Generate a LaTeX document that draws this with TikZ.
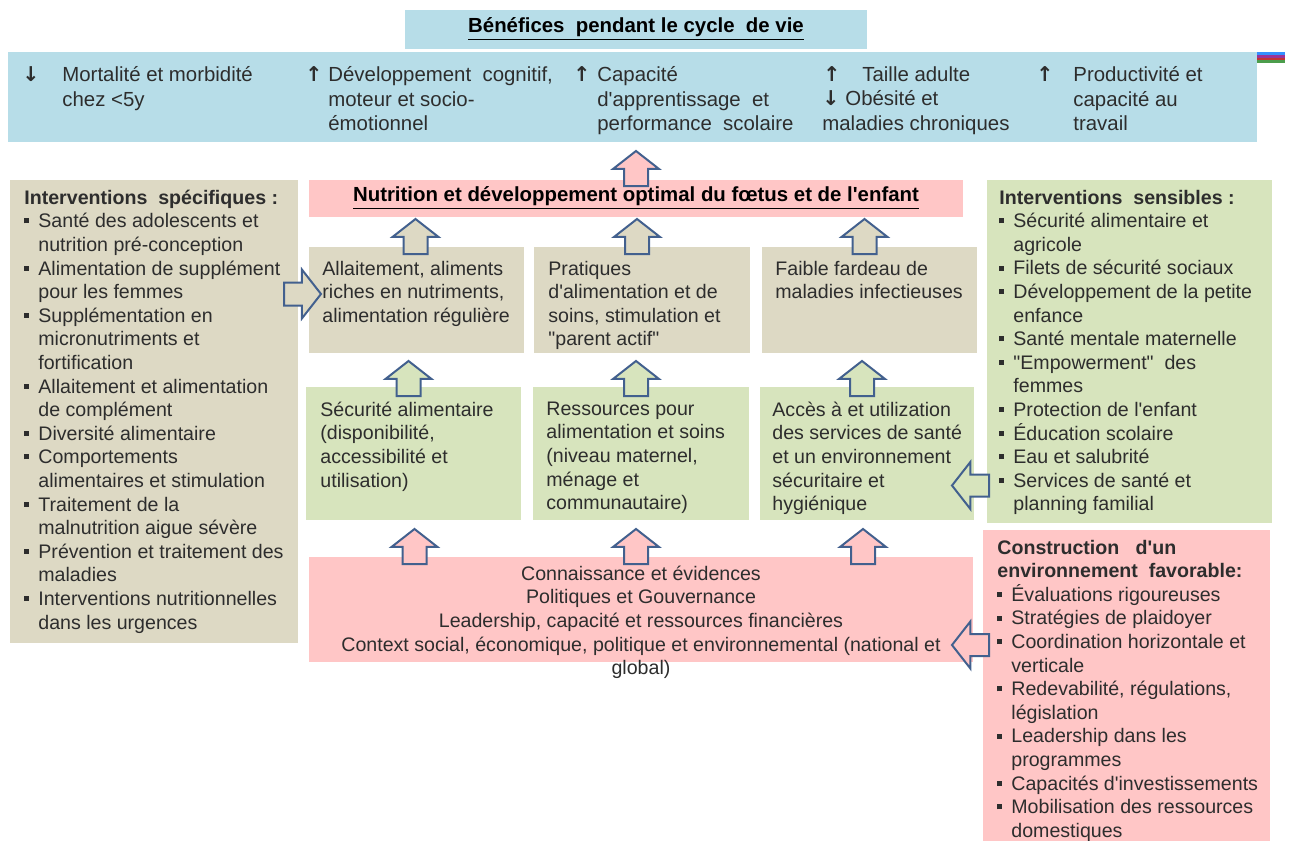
\documentclass[tikz,border=0pt]{standalone}
\usepackage{fontspec}
\setmainfont{Liberation Sans}[Ligatures=TeXOff]
\newfontfamily\arrowf{DejaVu Sans}
\usepackage{xcolor}
\usepackage{tikz}
\usetikzlibrary{calc,fit,shapes.arrows}

\definecolor{bluebox}{RGB}{183,221,232}
\definecolor{tanbox}{RGB}{221,217,196}
\definecolor{greenbox}{RGB}{215,228,189}
\definecolor{pinkbox}{RGB}{255,198,198}
\definecolor{arrline}{RGB}{66,96,142}
\definecolor{txtc}{RGB}{45,45,45}

\newcommand\bodyf{\fontsize{9.8}{11.8}\selectfont}
\newcommand\topf{\fontsize{10.2}{12.3}\selectfont}
\newcommand\bl{\makebox[7pt][l]{\rule[2.2pt]{2.5pt}{2.5pt}}}
\newcommand\ind{\hspace*{7pt}}
\newcommand\up[1]{\makebox[#1][l]{\arrowf\bfseries ↑}}
\newcommand\dn[1]{\makebox[#1][l]{\arrowf\bfseries ↓}}

\begin{document}
\begin{tikzpicture}[x=0.5pt,y=-0.5pt,
    box/.style={inner sep=0pt, outer sep=0pt},
    txt/.style={inner sep=0pt, anchor=north west, align=left, text=txtc, font=\bodyf, execute at begin node=\strut},
    toptxt/.style={txt, font=\topf},
    title/.style={inner sep=0pt, text=black, font=\fontsize{10.2}{12}\selectfont\bfseries},
    blk/.style={single arrow, draw=arrline, line width=1pt, inner xsep=0pt, inner ysep=5.5pt,
      text height=0pt, text depth=0pt, minimum width=0pt,
      single arrow head extend=5.5pt, single arrow tip angle=104},
    uparr/.style={blk, rotate=90, anchor=tail, minimum height=17.5pt},
    rarr/.style={blk, anchor=tail, minimum height=18.5pt, inner ysep=5.25pt, single arrow head extend=6.5pt},
    larr/.style={blk, rotate=180, anchor=tail, minimum height=18.5pt, inner ysep=5pt, single arrow head extend=6.25pt}
    ]
    \useasboundingbox (0,0) rectangle (1291,841);

    % boxes
    \node[box, fill=bluebox, fit={(405,10) (867,49)}] (bene) {};
    \node[box, fill=bluebox, fit={(8,52) (1257,142)}] (life) {};
    \node[box, fill=pinkbox, fit={(309,180) (963,217)}] (nut) {};
    \node[box, fill=tanbox, fit={(10,180) (298,643)}] (spec) {};
    \node[box, fill=tanbox, fit={(309,247) (524,353)}] (tanA) {};
    \node[box, fill=tanbox, fit={(534,247) (750,353)}] (tanB) {};
    \node[box, fill=tanbox, fit={(762,247) (977,353)}] (tanC) {};
    \node[box, fill=greenbox, fit={(306,387) (521,520)}] (grnA) {};
    \node[box, fill=greenbox, fit={(533,387) (749,520)}] (grnB) {};
    \node[box, fill=greenbox, fit={(760,387) (974,520)}] (grnC) {};
    \node[box, fill=greenbox, fit={(987,180) (1272,523)}] (sens) {};
    \node[box, fill=pinkbox, fit={(309,557) (973,662)}] (base) {};
    \node[box, fill=pinkbox, fit={(983,530) (1270,841)}] (env) {};

    % little stripes at the right end of the top box
    \fill[blue!55!cyan!80] (1257,52) rectangle (1285,54.8);
    \fill[violet!80] (1257,54.8) rectangle (1285,57.6);
    \fill[red!70!black!80] (1257,57.6) rectangle (1285,60.4);
    \fill[green!45!black!70] (1257,60.4) rectangle (1285,63);

    % titles
    \node[title] (beneT) at (bene.center) {\underline{Bénéfices\ \ pendant le cycle\ \ de vie}};
    \node[title] (nutT) at (nut.center) {\underline{Nutrition et développement\ optimal\ du fœtus et de l'enfant}};

    % benefits over the life cycle
    \node[toptxt] (c1) at ([shift={(14,14)}]life.north west) {\dn{20pt}Mortalité et morbidité\\\hspace*{20pt}chez <5y};
    \node[toptxt] (c2) at ([shift={(297,14)}]life.north west) {\up{11.5pt}Développement\ \ cognitif,\\\hspace*{11.5pt}moteur et socio-\\\hspace*{11.5pt}émotionnel};
    \node[toptxt] (c3) at ([shift={(565,14)}]life.north west) {\up{12pt}Capacité\\\hspace*{12pt}d'apprentissage\ \ et\\\hspace*{12pt}performance\ \ scolaire};
    \node[toptxt] (c4) at ([shift={(814,14)}]life.north west) {\hspace*{0.5pt}\up{19.5pt}Taille adulte\\\dn{11.5pt}Obésité et\\maladies chroniques};
    \node[toptxt] (c5) at ([shift={(1028,14)}]life.north west) {\up{18.5pt}Productivité et\\\hspace*{18.5pt}capacité au\\\hspace*{18.5pt}travail};

    % side lists
    \node[txt] (specT) at ([shift={(14,9.5)}]spec.north west) {\textbf{Interventions\ \ spécifiques\ :}\\
      \bl Santé des adolescents et\\
      \ind nutrition pré-conception\\
      \bl Alimentation de supplément\\
      \ind pour les femmes\\
      \bl Supplémentation en\\
      \ind micronutriments et\\
      \ind fortification\\
      \bl Allaitement et alimentation\\
      \ind de complément\\
      \bl Diversité alimentaire\\
      \bl Comportements\\
      \ind alimentaires et stimulation\\
      \bl Traitement de la\\
      \ind malnutrition aigue sévère\\
      \bl Prévention et traitement des\\
      \ind maladies\\
      \bl Interventions nutritionnelles\\
      \ind dans les urgences};
    \node[txt] (sensT) at ([shift={(12,9.5)}]sens.north west) {\textbf{Interventions\ \ sensibles\ :}\\
      \bl Sécurité alimentaire et\\
      \ind agricole\\
      \bl Filets de sécurité sociaux\\
      \bl Développement de la petite\\
      \ind enfance\\
      \bl Santé mentale maternelle\\
      \bl "Empowerment"\ \ des\\
      \ind femmes\\
      \bl Protection de l'enfant\\
      \bl Éducation scolaire\\
      \bl Eau et salubrité\\
      \bl Services de santé et\\
      \ind planning familial};
    \node[txt] (envT) at ([shift={(14,9.5)}]env.north west) {\textbf{Construction\ \ \ d'un}\\
      \textbf{environnement\ \ favorable:}\\
      \bl Évaluations rigoureuses\\
      \bl Stratégies de plaidoyer\\
      \bl Coordination horizontale et\\
      \ind verticale\\
      \bl Redevabilité, régulations,\\
      \ind législation\\
      \bl Leadership dans les\\
      \ind programmes\\
      \bl Capacités d'investissements\\
      \bl Mobilisation des ressources\\
      \ind domestiques};

    % middle boxes
    \node[txt] (tanAT) at ([shift={(13,13.5)}]tanA.north west) {Allaitement, aliments\\riches en nutriments,\\alimentation régulière};
    \node[txt] (tanBT) at ([shift={(14,13.5)}]tanB.north west) {Pratiques\\d'alimentation et de\\soins, stimulation et\\"parent actif"};
    \node[txt] (tanCT) at ([shift={(13,13.5)}]tanC.north west) {Faible fardeau de\\maladies infectieuses};
    \node[txt] (grnAT) at ([shift={(14,14.5)}]grnA.north west) {Sécurité alimentaire\\(disponibilité,\\accessibilité et\\utilisation)};
    \node[txt] (grnBT) at ([shift={(13,14.5)}]grnB.north west) {Ressources pour\\alimentation et soins\\(niveau maternel,\\ménage et\\communautaire)};
    \node[txt] (grnCT) at ([shift={(12,14.5)}]grnC.north west) {Accès à et utilization\\des services de santé\\et un environnement\\sécuritaire et\\hygiénique};
    \node[txt, anchor=north, align=center] (baseT) at ($(base.north)+(0,8.5)$) {Connaissance et évidences\\
      Politiques et Gouvernance\\
      Leadership, capacité et ressources financières\\
      Context social, économique, politique et environnemental (national et\\
      global)};

    % block arrows
    \node[uparr, fill=pinkbox] (upTop) at ($(nut.north)+(0,7)$) {};
    \node[uparr, fill=tanbox] (upA1) at ($(tanA.north)+(-1,8)$) {};
    \node[uparr, fill=tanbox] (upB1) at ($(tanB.north)+(-5,8)$) {};
    \node[uparr, fill=tanbox] (upC1) at ($(tanC.north)+(-5,8)$) {};
    \node[uparr, fill=greenbox] (upA2) at ($(grnA.north)+(-5,10)$) {};
    \node[uparr, fill=greenbox] (upB2) at ($(grnB.north)+(-5,10)$) {};
    \node[uparr, fill=greenbox] (upC2) at ($(grnC.north)+(-5,10)$) {};
    \node[uparr, fill=pinkbox] (upA3) at ($(grnA.south |- base.north)+(1,8)$) {};
    \node[uparr, fill=pinkbox] (upB3) at ($(grnB.south |- base.north)+(-5,8)$) {};
    \node[uparr, fill=pinkbox] (upC3) at ($(grnC.south |- base.north)+(-4,8)$) {};
    \node[rarr, fill=tanbox] (toA) at ($(spec.east |- tanA.west)+(-15,-6)$) {};
    \node[larr, fill=greenbox] (toC) at ($(sens.west |- grnC.south)+(3,-34.5)$) {};
    \node[larr, fill=pinkbox] (toBase) at ($(env.west |- base.south)+(7,-17)$) {};
\end{tikzpicture}
\end{document}
